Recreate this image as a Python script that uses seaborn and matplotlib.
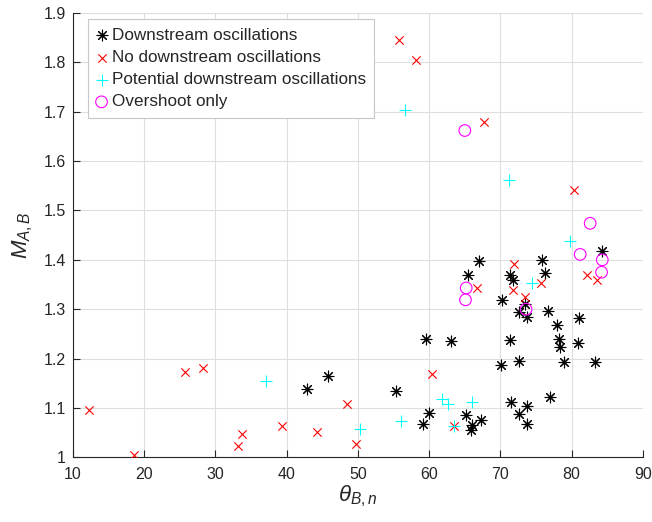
import numpy as np
import pandas as pd
import seaborn as sns
import matplotlib.pyplot as plt

# theta_Bn / M_AB values, per event class
osc_theta = [84.3, 67.0, 65.4, 75.9, 76.2, 71.3, 71.7, 70.2, 73.5, 72.6, 73.7, 76.7, 78.0,
             81.1, 59.6, 63.0, 71.3, 78.2, 78.3, 80.9, 70.1, 72.6, 78.9, 83.3, 55.3, 60.0,
             59.2, 65.2, 67.3, 66.0, 65.9, 71.5, 73.8, 72.6, 73.8, 76.9, 42.8, 45.8]
osc_m = [1.418, 1.398, 1.370, 1.400, 1.373, 1.369, 1.359, 1.318, 1.310, 1.295, 1.285, 1.297, 1.268,
         1.283, 1.239, 1.236, 1.237, 1.239, 1.224, 1.231, 1.187, 1.195, 1.194, 1.194, 1.134, 1.089,
         1.068, 1.085, 1.076, 1.065, 1.056, 1.111, 1.104, 1.087, 1.068, 1.123, 1.139, 1.164]

noosc_theta = [55.7, 58.2, 67.7, 80.4, 82.1, 83.6, 66.7, 71.9, 75.7, 71.7, 73.5, 60.4, 63.5,
               12.2, 18.6, 25.7, 28.2, 48.4, 49.7, 39.4, 44.3, 33.7, 33.2]
noosc_m = [1.846, 1.805, 1.680, 1.541, 1.369, 1.359, 1.342, 1.391, 1.354, 1.339, 1.325, 1.168, 1.063,
           1.095, 1.004, 1.172, 1.181, 1.107, 1.026, 1.063, 1.052, 1.047, 1.022]

pot_theta = [56.6, 71.2, 79.7, 74.5, 61.8, 62.7, 66.0, 56.1, 63.5, 37.1, 50.3]
pot_m = [1.704, 1.561, 1.438, 1.354, 1.118, 1.108, 1.111, 1.074, 1.063, 1.154, 1.057]

over_theta = [65.0, 82.6, 81.2, 84.3, 84.2, 65.2, 65.1, 73.6]
over_m = [1.662, 1.474, 1.411, 1.400, 1.375, 1.343, 1.319, 1.300]

labels = ["Downstream oscillations", "No downstream oscillations",
          "Potential downstream oscillations", "Overshoot only"]

sns.set_style("ticks")
plt.rcParams['font.family'] = ['Liberation Sans', 'DejaVu Sans']
plt.rcParams['mathtext.fontset'] = 'custom'
plt.rcParams['mathtext.it'] = 'Liberation Sans:italic'
plt.rcParams['mathtext.rm'] = 'Liberation Sans'

fig, ax = plt.subplots(figsize=(6.52, 5.22), dpi=100)
fig.subplots_adjust(left=0.112, right=0.986, bottom=0.124, top=0.975)

sns.scatterplot(x=osc_theta, y=osc_m, marker=(8, 2, 0), color="black", s=60,
                linewidth=0.8, label=labels[0], ax=ax, zorder=3)
sns.scatterplot(x=noosc_theta, y=noosc_m, marker="x", color="red", s=36,
                linewidth=0.8, label=labels[1], ax=ax, zorder=3)
sns.scatterplot(x=pot_theta, y=pot_m, marker="+", color="cyan", s=64,
                linewidth=0.8, label=labels[2], ax=ax, zorder=3)
sns.scatterplot(x=over_theta, y=over_m, marker="o", facecolors="none", edgecolor="magenta",
                s=70, linewidth=0.8, label=labels[3], ax=ax, zorder=3)

ax.set_xlim(10, 90)
ax.set_ylim(1, 1.9)
ax.set_xticks(np.arange(10, 91, 10))
ax.set_yticks(np.arange(1, 1.91, 0.1))
ax.set_yticklabels(["1", "1.1", "1.2", "1.3", "1.4", "1.5", "1.6", "1.7", "1.8", "1.9"])
ax.grid(True, color="#dedede", linewidth=0.8)
ax.set_axisbelow(True)
ax.tick_params(direction="in", length=5, labelsize=11.5, colors="#262626", width=0.8)
ax.tick_params(axis="x", pad=7)
ax.tick_params(axis="y", pad=5)
sns.despine(ax=ax)
for sp in ["left", "bottom"]:
    ax.spines[sp].set_color("#262626")
    ax.spines[sp].set_linewidth(0.8)

ax.set_xlabel(r"$\theta_{B,n}$", fontsize=16, color="#262626", labelpad=1)
ax.set_ylabel(r"$M_{A,B}$", fontsize=16, color="#262626", labelpad=6)

leg = ax.legend(loc="upper left", bbox_to_anchor=(0.026, 0.986), fontsize=12.3,
                handlelength=0.6, handletextpad=0.3, borderpad=0.5, labelspacing=0.42,
                borderaxespad=0, fancybox=False, framealpha=1, edgecolor="#c8c8c8")
leg.get_frame().set_linewidth(0.8)

plt.savefig("out.png", dpi=100)
